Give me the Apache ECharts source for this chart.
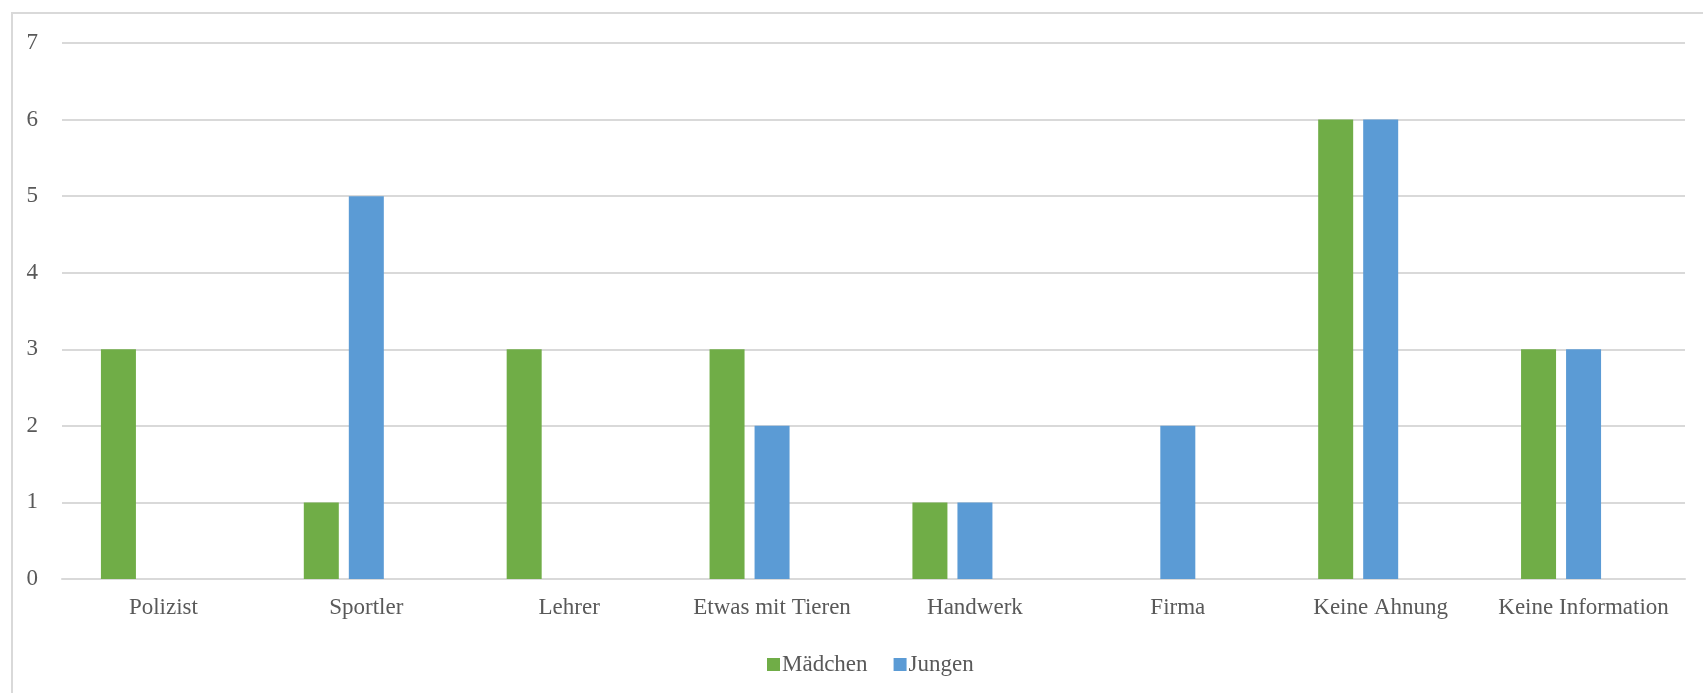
<!DOCTYPE html>
<html>
<head>
<meta charset="utf-8">
<style>
  html, body { margin: 0; padding: 0; background: #fff; }
  #chart { width: 1703px; height: 693px; }
</style>
<script src="https://cdn.jsdelivr.net/npm/echarts@6/dist/echarts.min.js"></script>
</head>
<body>
<div id="chart"></div>
<script>
// Berufswünsche Mädchen / Jungen
var categories = ['Polizist', 'Sportler', 'Lehrer', 'Etwas mit Tieren', 'Handwerk', 'Firma', 'Keine Ahnung', 'Keine Information'];
var maedchen = [3, 1, 3, 3, 1, null, 6, 3];
var jungen = [null, 5, null, 2, 1, 2, 6, 3];
// leere dritte Reihe (im Original vorhanden, ohne Werte)
var leer = [null, null, null, null, null, null, null, null];
var yTicks = [0, 1, 2, 3, 4, 5, 6, 7];

var myChart = echarts.init(document.getElementById('chart'));

var textColor = '#595959';
var font = '"Liberation Serif", "DejaVu Serif", serif';

var option = {
    animation: false,
    backgroundColor: '#fff',
    graphic: [{
        type: 'rect',
        shape: { x: 12, y: 13, width: 1800, height: 800 },
        style: { fill: null, stroke: '#d9d9d9', lineWidth: 2 },
        silent: true
    }],
    grid: {
        left: 62,
        right: 18,
        top: 43,
        bottom: 114
    },
    legend: {
        data: ['Mädchen', 'Jungen'],
        left: 762,
        top: 648,
        icon: 'rect',
        itemWidth: 13,
        itemHeight: 13,
        itemGap: 26,
        textStyle: {
            color: textColor,
            fontFamily: font,
            fontSize: 23,
            padding: [0, 0, 0, -3]
        }
    },
    xAxis: {
        type: 'category',
        data: categories,
        axisLine: { lineStyle: { color: '#d9d9d9', width: 2 } },
        axisTick: { show: false },
        axisLabel: {
            color: textColor,
            fontFamily: font,
            fontSize: 23,
            margin: 17,
            interval: 0
        }
    },
    yAxis: {
        type: 'value',
        min: yTicks[0],
        max: yTicks[yTicks.length - 1],
        interval: 1,
        axisLine: { show: false },
        axisTick: { show: false },
        splitLine: { lineStyle: { color: '#d9d9d9', width: 2 } },
        axisLabel: {
            color: textColor,
            fontFamily: font,
            fontSize: 23,
            margin: 24
        }
    },
    series: [
        {
            name: 'Mädchen',
            type: 'bar',
            data: maedchen,
            barWidth: 35,
            barGap: '28.6%',
            itemStyle: { color: '#70ad47' }
        },
        {
            name: 'Jungen',
            type: 'bar',
            data: jungen,
            barWidth: 35,
            barGap: '28.6%',
            itemStyle: { color: '#5b9bd5' }
        },
        {
            name: 'leer',
            type: 'bar',
            data: leer,
            barWidth: 35,
            barGap: '28.6%',
            itemStyle: { color: '#a5a5a5' }
        }
    ]
};

myChart.setOption(option);
</script>
</body>
</html>
